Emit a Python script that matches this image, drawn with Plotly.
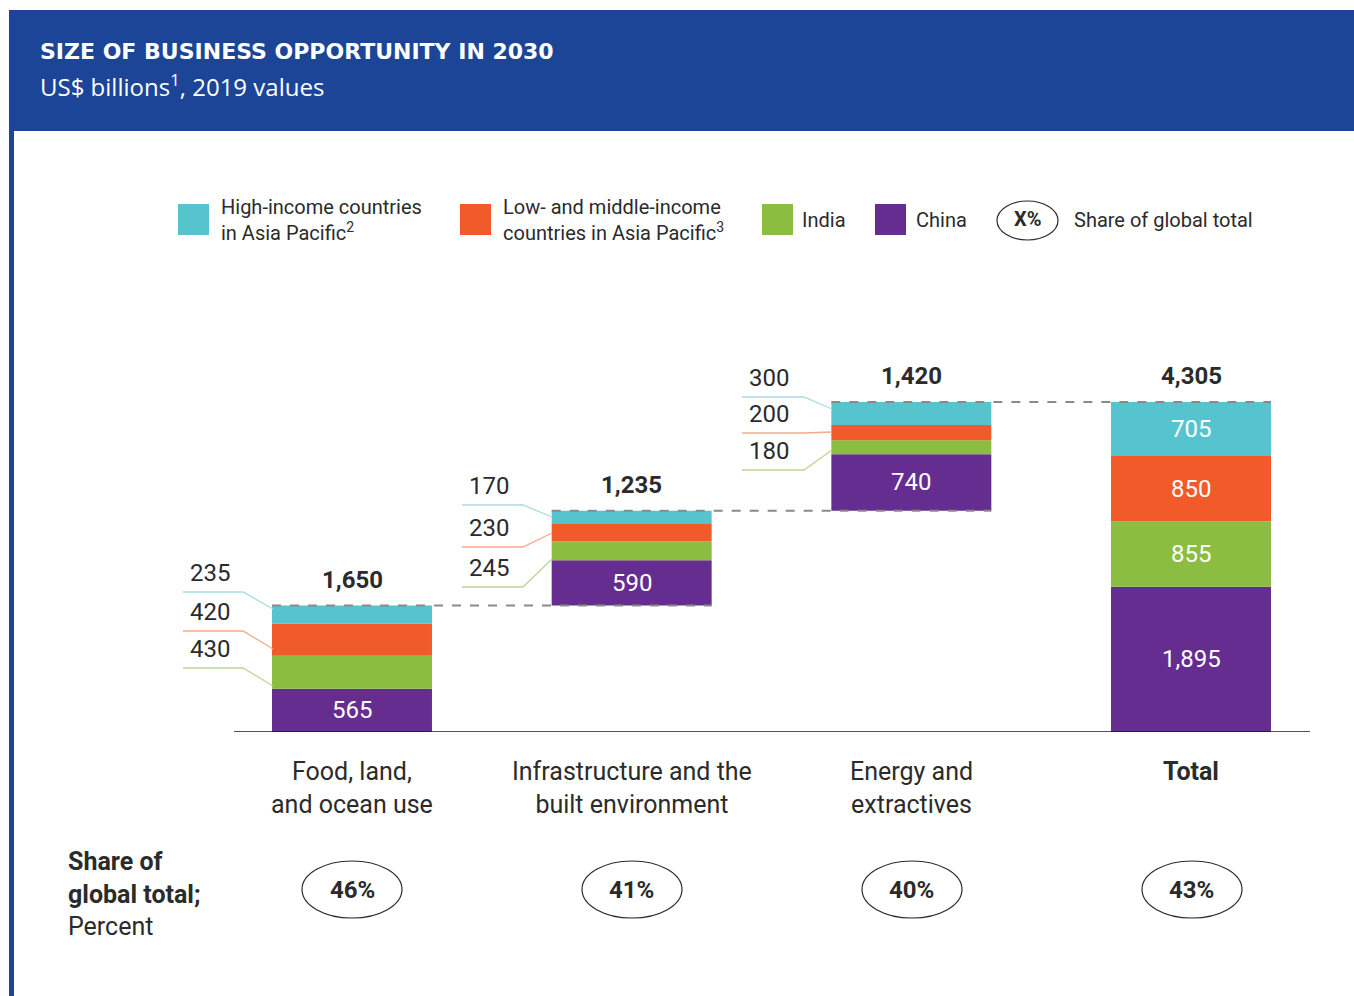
import plotly.graph_objects as go

# data (US$ billions, 2019 values)
categories = ["Food, land,<br>and ocean use", "Infrastructure and the<br>built environment",
              "Energy and<br>extractives", "<b>Total</b>"]
china = [565, 590, 740, 1895]
india = [430, 245, 180, 855]
low_middle = [420, 230, 200, 850]
high_income = [235, 170, 300, 705]
share_pct = [46, 41, 40, 43]

TEAL = "#55c4cf"
ORANGE = "#f15a29"
GREEN = "#8abd40"
PURPLE = "#652d8f"
BLUE = "#1c4598"
TXT = "#2b2b2b"
FONT = "Roboto"

W, H = 1354, 996
PL, PR, PT, PB = 234, 1310, 300, 732   # plot area in page pixels


def px(x):
    return (x - PL) / (PR - PL)


def py(y):
    return (PB - y) / (PB - PT)


def note(x, y, text, size, color=TXT, family=FONT, xanchor="center", align="center", **kw):
    d = dict(xref="paper", yref="paper", x=px(x), y=py(y), xanchor=xanchor, yanchor="middle",
             align=align, showarrow=False, text=text,
             font=dict(family=family, size=size, color=color))
    d.update(kw)
    return d


n = len(china)
totals = [china[i] + india[i] + low_middle[i] + high_income[i] for i in range(n)]
starts = []
run = 0
for i in range(n - 1):
    starts.append(run)
    run += totals[i]
starts.append(0)  # total bar sits on the axis
tops = [starts[i] + totals[i] for i in range(n)]

bar_w = 0.572
xs = list(range(n))

fig = go.Figure()
annotations = []

series = [("China", china, PURPLE), ("India", india, GREEN),
          ("Low- and middle-income countries in Asia Pacific", low_middle, ORANGE),
          ("High-income countries in Asia Pacific", high_income, TEAL)]
base = list(starts)
for name, vals, col in series:
    fig.add_trace(go.Bar(x=xs, y=vals, base=base, width=bar_w, name=name,
                         marker=dict(color=col, line=dict(width=0)), hoverinfo="skip"))
    # white value labels: China in every bar, all regions in the total bar
    for i in range(n):
        if name == "China" or i == n - 1:
            annotations.append(dict(x=i, y=base[i] + vals[i] / 2, xref="x", yref="y",
                                    xanchor="center", yanchor="middle", showarrow=False,
                                    text=f"{vals[i]:,}",
                                    font=dict(family=FONT, size=24, color="white")))
    base = [b + v for b, v in zip(base, vals)]

shapes = []

# header band and left rule
shapes.append(dict(type="rect", xref="paper", yref="paper", x0=px(9), x1=px(1354),
                   y0=py(131), y1=py(10), fillcolor=BLUE, line_width=0, layer="below"))
shapes.append(dict(type="rect", xref="paper", yref="paper", x0=px(9), x1=px(14),
                   y0=py(996), y1=py(131), fillcolor=BLUE, line_width=0, layer="below"))
annotations.append(note(38, 52, "<b>SIZE OF BUSINESS OPPORTUNITY IN 2030</b>", 22,
                        color="white", family="DejaVu Sans", xanchor="left", align="left"))
annotations.append(note(38, 85, "US$ billions<sup>1</sup>, 2019 values", 24,
                        color="white", family="Open Sans", xanchor="left", align="left"))

# legend
legend_items = [(178, TEAL, 219, "High-income countries<br>in Asia Pacific<sup>2</sup>"),
                (460, ORANGE, 501, "Low- and middle-income<br>countries in Asia Pacific<sup>3</sup>"),
                (762, GREEN, 800, "India"),
                (875, PURPLE, 914, "China")]
for sx, col, tx, label in legend_items:
    shapes.append(dict(type="rect", xref="paper", yref="paper", x0=px(sx), x1=px(sx + 31),
                       y0=py(235), y1=py(204), fillcolor=col, line_width=0))
    annotations.append(note(tx, 220, label, 20, xanchor="left", align="left"))
shapes.append(dict(type="circle", xref="paper", yref="paper", x0=px(997), x1=px(1058),
                   y0=py(240), y1=py(201), line=dict(color=TXT, width=1.2)))
annotations.append(note(1027.5, 219, "<b>X%</b>", 20))
annotations.append(note(1072, 220, "Share of global total", 20, xanchor="left", align="left"))

# baseline
shapes.append(dict(type="line", xref="paper", yref="y", x0=0, x1=1, y0=0, y1=0,
                   line=dict(color="#1a1a1a", width=1.5)))

# dashed connectors between steps
for i in range(n - 1):
    shapes.append(dict(type="line", xref="x", yref="y", x0=i - bar_w / 2, x1=i + 1 + bar_w / 2,
                       y0=tops[i], y1=tops[i], line=dict(color="#8a8a8a", width=2, dash="dash")))

# totals above bars
for i in range(n):
    annotations.append(dict(x=i, y=tops[i], xref="x", yref="y", yshift=26, showarrow=False,
                            xanchor="center", yanchor="middle",
                            text=f"<b>{totals[i]:,}</b>",
                            font=dict(family=FONT, size=24, color=TXT)))

# leader-line labels for the step bars (page pixel geometry: line y, end y on the bar)
leader_geo = [
    dict(knee=30, rows=[(592, 609), (631, 649), (668, 686)]),
    dict(knee=29, rows=[(505, 517), (547, 533), (587, 559)]),
    dict(knee=28, rows=[(397, 409), (433, 432), (470, 450)]),
]
leader_cols = ["#a6dde3", "#f7a988", "#bcd993"]
bar_left_px = [273, 552, 832]
for i in range(n - 1):
    vals = [high_income[i], low_middle[i], india[i]]
    bl = bar_left_px[i]
    geo = leader_geo[i]
    for (ly, ey), v, lc in zip(geo["rows"], vals, leader_cols):
        x0 = bl - 90
        xk = bl - geo["knee"]
        shapes.append(dict(type="path", xref="paper", yref="paper",
                           path=f"M {px(x0)},{py(ly)} L {px(xk)},{py(ly)} L {px(bl)},{py(ey)}",
                           line=dict(color=lc, width=1.3)))
        annotations.append(note(x0 + 27, ly - 19, f"{v:,}", 24))

# category labels
for i, c in enumerate(categories):
    annotations.append(dict(x=i, xref="x", yref="paper", y=py(755), xanchor="center",
                            yanchor="top", showarrow=False, text=c,
                            font=dict(family=FONT, size=25, color=TXT)))

# share of global total row
annotations.append(note(66, 894, "<b>Share of<br>global total;</b><br>Percent", 25,
                        xanchor="left", align="left"))
for i, s in enumerate(share_pct):
    cx = 352 + i * 280
    shapes.append(dict(type="circle", xref="paper", yref="paper", x0=px(cx - 50), x1=px(cx + 50),
                       y0=py(918), y1=py(861), line=dict(color=TXT, width=1.2)))
    annotations.append(dict(x=i, xref="x", yref="paper", y=py(890), xanchor="center",
                            yanchor="middle", showarrow=False,
                            text=f"<b>{s}%</b>", font=dict(family=FONT, size=24, color=TXT)))

x_lo = -(352 - PL) / 279.67
x_hi = 3 + (PR - 1191) / 279.67
fig.update_layout(
    width=W, height=H,
    margin=dict(l=PL, r=W - PR, t=PT, b=H - PB, pad=0),
    paper_bgcolor="white", plot_bgcolor="white",
    barmode="overlay", showlegend=False,
    xaxis=dict(range=[x_lo, x_hi], visible=False, fixedrange=True),
    yaxis=dict(range=[0, (PB - PT) / 0.076655], visible=False, fixedrange=True),
    shapes=shapes, annotations=annotations,
)

fig.write_html("out.html", config=dict(displayModeBar=False),
               post_script="document.body.style.margin='0';document.body.style.overflow='hidden';")
